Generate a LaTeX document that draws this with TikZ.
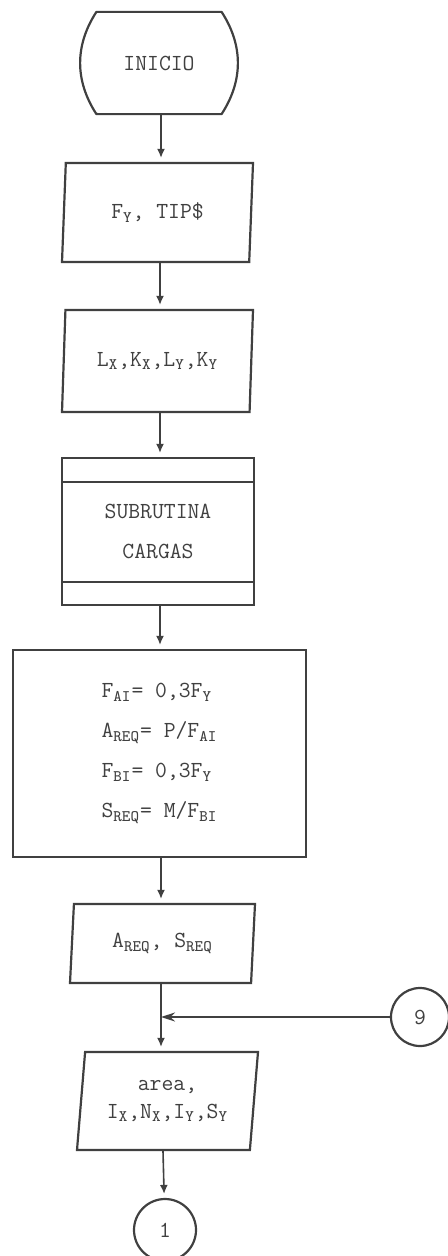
\documentclass[tikz,border=0pt]{standalone}
\usepackage{tikz}
\usetikzlibrary{shapes.geometric,arrows.meta}
\pgfdeclarelayer{edgelayer}
\pgfdeclarelayer{nodelayer}
\pgfsetlayers{edgelayer,nodelayer,main}
\tikzstyle{edge}=[draw=black!75, line width=0.8pt, shorten >=2pt, -{Latex[length=4.5pt,width=4pt]}]
\tikzstyle{backedge}=[draw=black!75, line width=0.8pt, -{Stealth[length=7pt,width=4.5pt]}]
\tikzstyle{base}=[draw=black!75, line width=1.1pt, fill=white, text=black!75, font=\ttfamily\fontsize{11.5}{20}\selectfont, inner sep=0pt, align=center]
\tikzstyle{terminal}=[base, draw=none, rectangle, minimum width=61.5pt, minimum height=50pt,
  append after command={\pgfextra{\draw[black!75, line width=1.1pt, line join=round]
    (\tikzlastnode.north west) -- (\tikzlastnode.north east) to[bend left=33] (\tikzlastnode.south east)
    -- (\tikzlastnode.south west) to[bend left=33] (\tikzlastnode.north west) -- cycle;}}]
\tikzstyle{io}=[base, trapezium, trapezium left angle=79, trapezium right angle=101, trapezium stretches body=true]
\tikzstyle{subrut}=[base, rectangle, minimum width=96pt, minimum height=73.5pt,
  path picture={
    \draw[black!75, line width=1.1pt] ([yshift=-12pt]path picture bounding box.north west) -- ([yshift=-12pt]path picture bounding box.north east);
    \draw[black!75, line width=1.1pt] ([yshift=11.5pt]path picture bounding box.south west) -- ([yshift=11.5pt]path picture bounding box.south east);
  }]
\tikzstyle{process}=[base, rectangle, align=left]
\tikzstyle{connector}=[base, circle]

\begin{document}
\begin{tikzpicture}[x=0.5pt, y=0.5pt]
  \useasboundingbox (0,0) rectangle (448,-1256);
  \begin{pgfonlayer}{nodelayer}
    \node [style=terminal] (0) at (159,-63) {INICIO};
    \node [style=io, minimum width=95.5pt, minimum height=49.5pt] (1) at (157.5,-212.5) {F\textsubscript{Y}, TIP\$};
    \node [style=io, minimum width=95.5pt, minimum height=51pt] (2) at (157.5,-361) {L\textsubscript{X},K\textsubscript{X},L\textsubscript{Y},K\textsubscript{Y}};
    \node [style=subrut] (3) at (158,-531.5) {SUBRUTINA\\CARGAS};
    \node [style=process, minimum width=146.5pt, minimum height=103.5pt] (4) at (159.5,-753.5)
      {F\textsubscript{AI}= 0,3F\textsubscript{Y}\\A\textsubscript{REQ}= P/F\textsubscript{AI}\\F\textsubscript{BI}= 0,3F\textsubscript{Y}\\S\textsubscript{REQ}= M/F\textsubscript{BI}};
    \node [style=io, minimum width=92.5pt, minimum height=39.5pt] (5) at (162.5,-943.5) {A\textsubscript{REQ}, S\textsubscript{REQ}};
    \node [style=connector, minimum size=29pt] (6) at (420,-1017) {9};
    \node [style=io, minimum width=90.5pt, minimum height=49pt] (7) at (167.5,-1101)
      {area,\\[-6pt]I\textsubscript{X},N\textsubscript{X},I\textsubscript{Y},S\textsubscript{Y}};
    \node [style=connector, minimum size=31pt] (8) at (165,-1230) {1};
    \coordinate (j) at (161,-1017);
  \end{pgfonlayer}
  \begin{pgfonlayer}{edgelayer}
    \draw [style=edge] (0.south -| 161,0) -- (1.north -| 161,0);
    \draw [style=edge] (1.south -| 160,0) -- (2.north -| 160,0);
    \draw [style=edge] (2.south -| 160,0) -- (3.north -| 160,0);
    \draw [style=edge] (3.south -| 160,0) -- (4.north -| 160,0);
    \draw [style=edge] (4.south -| 161,0) -- (5.north -| 161,0);
    \draw [style=edge] (5.south -| 161,0) -- (7.north -| 161,0);
    \draw [style=backedge] (6) -- (j);
    \draw [style=edge] (7.south -| 163,0) -- (8);
  \end{pgfonlayer}
\end{tikzpicture}
\end{document}
